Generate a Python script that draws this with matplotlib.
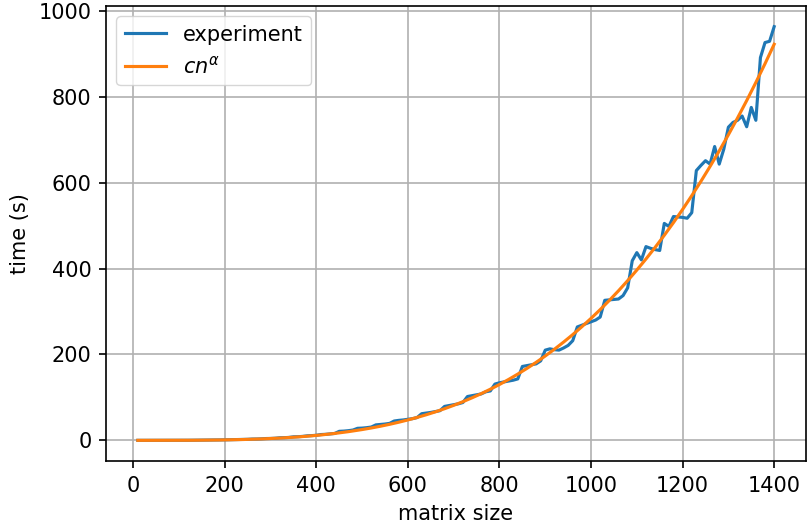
import numpy as np
import matplotlib
matplotlib.use("Agg")
import matplotlib.pyplot as plt

# matrix sizes
sizes = list(range(10, 1401, 10))

# measured times (s)
times = [
    0.0, 0.0, 0.0, 0.0, 0.0, 0.0, 0.0, 0.1, 0.1, 0.1,
    0.2, 0.2, 0.3, 0.5, 0.5, 0.6, 0.8, 0.8, 1.0, 1.3,
    1.4, 1.6, 2.0, 2.1, 2.4, 3.0, 3.1, 3.5, 4.2, 4.4,
    4.9, 6.0, 6.2, 6.8, 8.2, 8.4, 9.2, 10.5, 11.0, 11.8,
    13.5, 14.0, 15.0, 16.0, 21.0, 21.5, 22.5, 24.0, 28.0, 28.5,
    29.5, 31.0, 36.0, 37.0, 38.0, 39.5, 45.0, 46.5, 47.5, 49.0,
    50.5, 53.0, 62.0, 63.5, 65.0, 67.0, 69.0, 79.0, 81.0, 83.0,
    85.0, 88.0, 102.0, 104.0, 106.0, 108.0, 113.0, 115.0, 131.0, 134.0,
    136.0, 138.0, 140.0, 143.0, 172.0, 174.0, 176.0, 178.0, 185.0, 210.0,
    213.0, 211.0, 210.0, 215.0, 221.0, 232.0, 264.0, 268.0, 272.0, 276.0,
    280.0, 287.0, 326.0, 327.0, 328.0, 329.0, 337.0, 355.0, 418.0, 437.0,
    420.0, 451.0, 447.0, 444.0, 442.0, 505.0, 498.0, 521.0, 520.0, 519.0,
    517.0, 530.0, 628.0, 640.0, 651.0, 643.0, 684.0, 643.0, 678.0, 729.0,
    740.0, 745.0, 755.0, 730.0, 775.0, 745.0, 891.0, 926.0, 929.0, 963.0,
]

# fitted model parameters: time = c * n**alpha
alpha = 3.5
c = 922.0 / 1400.0 ** alpha

x_label = "matrix size"
y_label = "time (s)"
legend_labels = ["experiment", r"$cn^{\alpha}$"]

s = 1.5
plt.rcParams.update({
    "font.size": 10 * s,
    "axes.linewidth": 0.8 * s,
    "xtick.major.width": 0.8 * s,
    "ytick.major.width": 0.8 * s,
    "xtick.major.size": 3.5 * s,
    "ytick.major.size": 3.5 * s,
    "xtick.major.pad": 3.5 * s,
    "ytick.major.pad": 3.5 * s,
    "grid.linewidth": 0.8 * s,
    "axes.labelpad": 4.0 * s,
})

fig = plt.figure(figsize=(8.08, 5.29), dpi=100)
ax = fig.add_axes([0.1312, 0.1285, 0.8663, 0.8602])

n = np.array(sizes, dtype=float)
ax.plot(n, times, color="#1f77b4", lw=1.5 * s, label=legend_labels[0])
ax.plot(n, c * n ** alpha, color="#ff7f0e", lw=1.5 * s, label=legend_labels[1])

ax.grid(True, color="#b0b0b0")
ax.set_xlabel(x_label)
ax.set_ylabel(y_label)
ax.set_xticks([0, 200, 400, 600, 800, 1000, 1200, 1400])
ax.set_yticks([0, 200, 400, 600, 800, 1000])
ax.legend(loc="upper left")

fig.savefig("out.png", dpi=100)
